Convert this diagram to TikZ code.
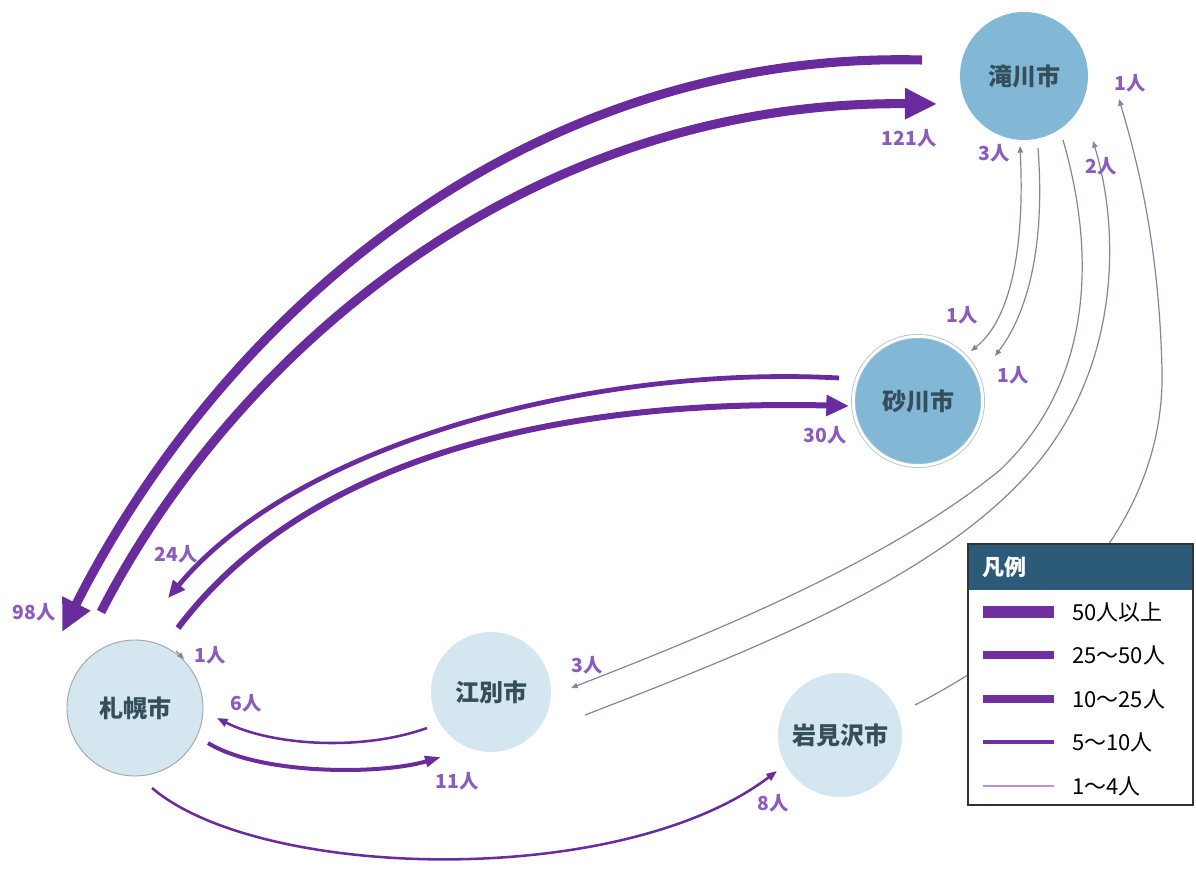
\documentclass[tikz,border=0pt]{standalone}
\usepackage{fontspec}
\setmainfont{Noto Sans CJK JP}
\usetikzlibrary{arrows.meta,calc}
\definecolor{flowpurple}{RGB}{106,44,156}
\definecolor{flowgray}{RGB}{140,128,158}
\definecolor{labelpurple}{RGB}{138,92,190}
\definecolor{citydeep}{RGB}{130,184,214}
\definecolor{citypale}{RGB}{212,230,239}
\definecolor{cityrim}{RGB}{168,194,210}
\definecolor{citytext}{RGB}{52,78,92}
\definecolor{legendhead}{RGB}{43,91,121}
\definecolor{legendline}{RGB}{112,48,160}
\definecolor{legendthin}{RGB}{180,150,214}

\begin{document}
\begin{tikzpicture}[x=0.75pt,y=0.75pt,yscale=-1,xscale=1,
  city/.style={circle,inner sep=0pt,text=citytext,font=\fontsize{18}{21}\selectfont\bfseries},
  citydark/.style={city,fill=citydeep},
  citylight/.style={city,fill=citypale},
  flowlab/.style={inner sep=1pt,text=labelpurple,font=\fontsize{14.5}{17}\selectfont\bfseries},
  flowxl/.style={draw=flowpurple,line width=6.8pt,-{Triangle[length=24pt,width=22pt]}},
  flowl/.style={draw=flowpurple,line width=4.5pt,-{Triangle[length=17pt,width=15pt]}},
  flowm/.style={draw=flowpurple,line width=3.6pt,-{Triangle[length=13pt,width=11pt]}},
  flowmm/.style={draw=flowpurple,line width=3pt,-{Triangle[length=12pt,width=8pt]}},
  flows/.style={draw=flowpurple,line width=1.9pt,-{Triangle[length=8pt,width=6pt]}},
  flowxs/.style={draw=flowgray,line width=0.9pt,-{Triangle[length=5pt,width=4pt]}},
  legtext/.style={anchor=west,inner sep=0pt,font=\fontsize{16.5}{19}\selectfont}
]
\useasboundingbox (0,0) rectangle (1196,873);

% cities
\node (taki) [citydark,minimum size=96pt] at (1024,76) {滝川市};
\node (suna) [citydark,minimum size=97pt,draw=cityrim,double=white,double distance=2.2pt,line width=0.6pt] at (918,401) {砂川市};
\node (sapp) [citylight,minimum size=102pt,draw=black!35,line width=0.7pt] at (135,708) {札幌市};
\node (ebet) [citylight,minimum size=90pt] at (491,692) {江別市};
\node (iwam) [citylight,minimum size=93pt] at (840,735) {岩見沢市};

% flows
\draw [flowxl] ($(taki)+(-102,-16)$) .. controls (520,50) and (220,320) .. ($(sapp)+(-73,-76)$);
\draw [flowxl] ($(sapp)+(-34,-96)$) .. controls (230,360) and (520,100) .. ($(taki)+(-87,28)$);
\draw [flowm] ($(suna)+(-79,-23)$) .. controls (600,365) and (300,440) .. ($(sapp)+(33,-110)$);
\draw [flowl] ($(sapp)+(43,-80)$) .. controls (320,440) and (600,400) .. ($(suna)+(-69,5)$);
\draw [flows] ($(ebet)+(-64,36)$) .. controls (360,752) and (270,745) .. ($(sapp)+(82,10)$);
\draw [flowmm] ($(sapp)+(73,35)$) .. controls (260,775) and (380,775) .. ($(ebet)+(-50,65)$);
\draw [flows] ($(sapp)+(17,80)$) .. controls (260,880) and (620,890) .. ($(iwam)+(-63,36)$);

\draw [flowxs] ($(taki)+(39,64)$) .. controls (1095,250) and (1095,380) .. (1000,470) .. controls (890,560) and (720,630) .. ($(ebet)+(80,-4)$);
\draw [flowxs] ($(ebet)+(94,23)$) .. controls (780,640) and (950,570) .. (1040,460) .. controls (1120,360) and (1120,230) .. ($(taki)+(69,65)$);
\draw [flowxs] ($(iwam)+(75,-30)$) .. controls (1080,620) and (1165,500) .. (1162,370) .. controls (1159,250) and (1140,170) .. ($(taki)+(95,23)$);
\draw [flowxs,{Triangle[length=5pt,width=4pt]}-{Triangle[length=5pt,width=4pt]}] ($(suna)+(53,-50)$) .. controls (1010,320) and (1025,250) .. ($(taki)+(-4,70)$);
\draw [flowxs] ($(taki)+(14,72)$) .. controls (1045,240) and (1030,310) .. ($(suna)+(77,-45)$);
\coordinate (stubtail) at (176,651);
\draw [flowxs] (stubtail) -- ($(sapp)+(49,-49)$);

% numbers
\node (l121) [flowlab] at (909,138) {121人};
\node (l98) [flowlab] at (34,612) {98人};
\node (l24) [flowlab] at (176,554) {24人};
\node (l1s) [flowlab] at (210,655) {1人};
\node (l6) [flowlab] at (246,703) {6人};
\node (l11) [flowlab] at (457,781) {11人};
\node (l3e) [flowlab] at (587,665) {3人};
\node (l8) [flowlab] at (773,803) {8人};
\node (l30) [flowlab] at (825,435) {30人};
\node (l1a) [flowlab] at (962,315) {1人};
\node (l1b) [flowlab] at (1013,375) {1人};
\node (l3t) [flowlab] at (994,153) {3人};
\node (l2) [flowlab] at (1101,166) {2人};
\node (l1t) [flowlab] at (1130,83) {1人};

% legend
\fill [white] (968,544) rectangle (1193,805);
\fill [legendhead] (968,544) rectangle (1193,590);
\draw [black!80,line width=0.8pt] (968,544) rectangle (1193,805);
\node (leghead) [legtext,text=white,font=\fontsize{16.5}{19}\selectfont\bfseries] at (982,567) {凡例};
\draw [legendline,line width=9.5pt] (983,612) -- (1054,612);
\node (leg50) [legtext] at (1072,612) {50人以上};
\draw [legendline,line width=6.2pt] (983,655) -- (1054,655);
\node (leg25) [legtext] at (1072,655) {25～50人};
\draw [legendline,line width=5.4pt] (983,699) -- (1054,699);
\node (leg10) [legtext] at (1072,699) {10～25人};
\draw [legendline,line width=3pt] (983,742) -- (1054,742);
\node (leg5) [legtext] at (1072,742) {5～10人};
\draw [legendthin,line width=1.3pt] (983,786) -- (1054,786);
\node (leg1) [legtext] at (1072,786) {1～4人};

\end{tikzpicture}
\end{document}
